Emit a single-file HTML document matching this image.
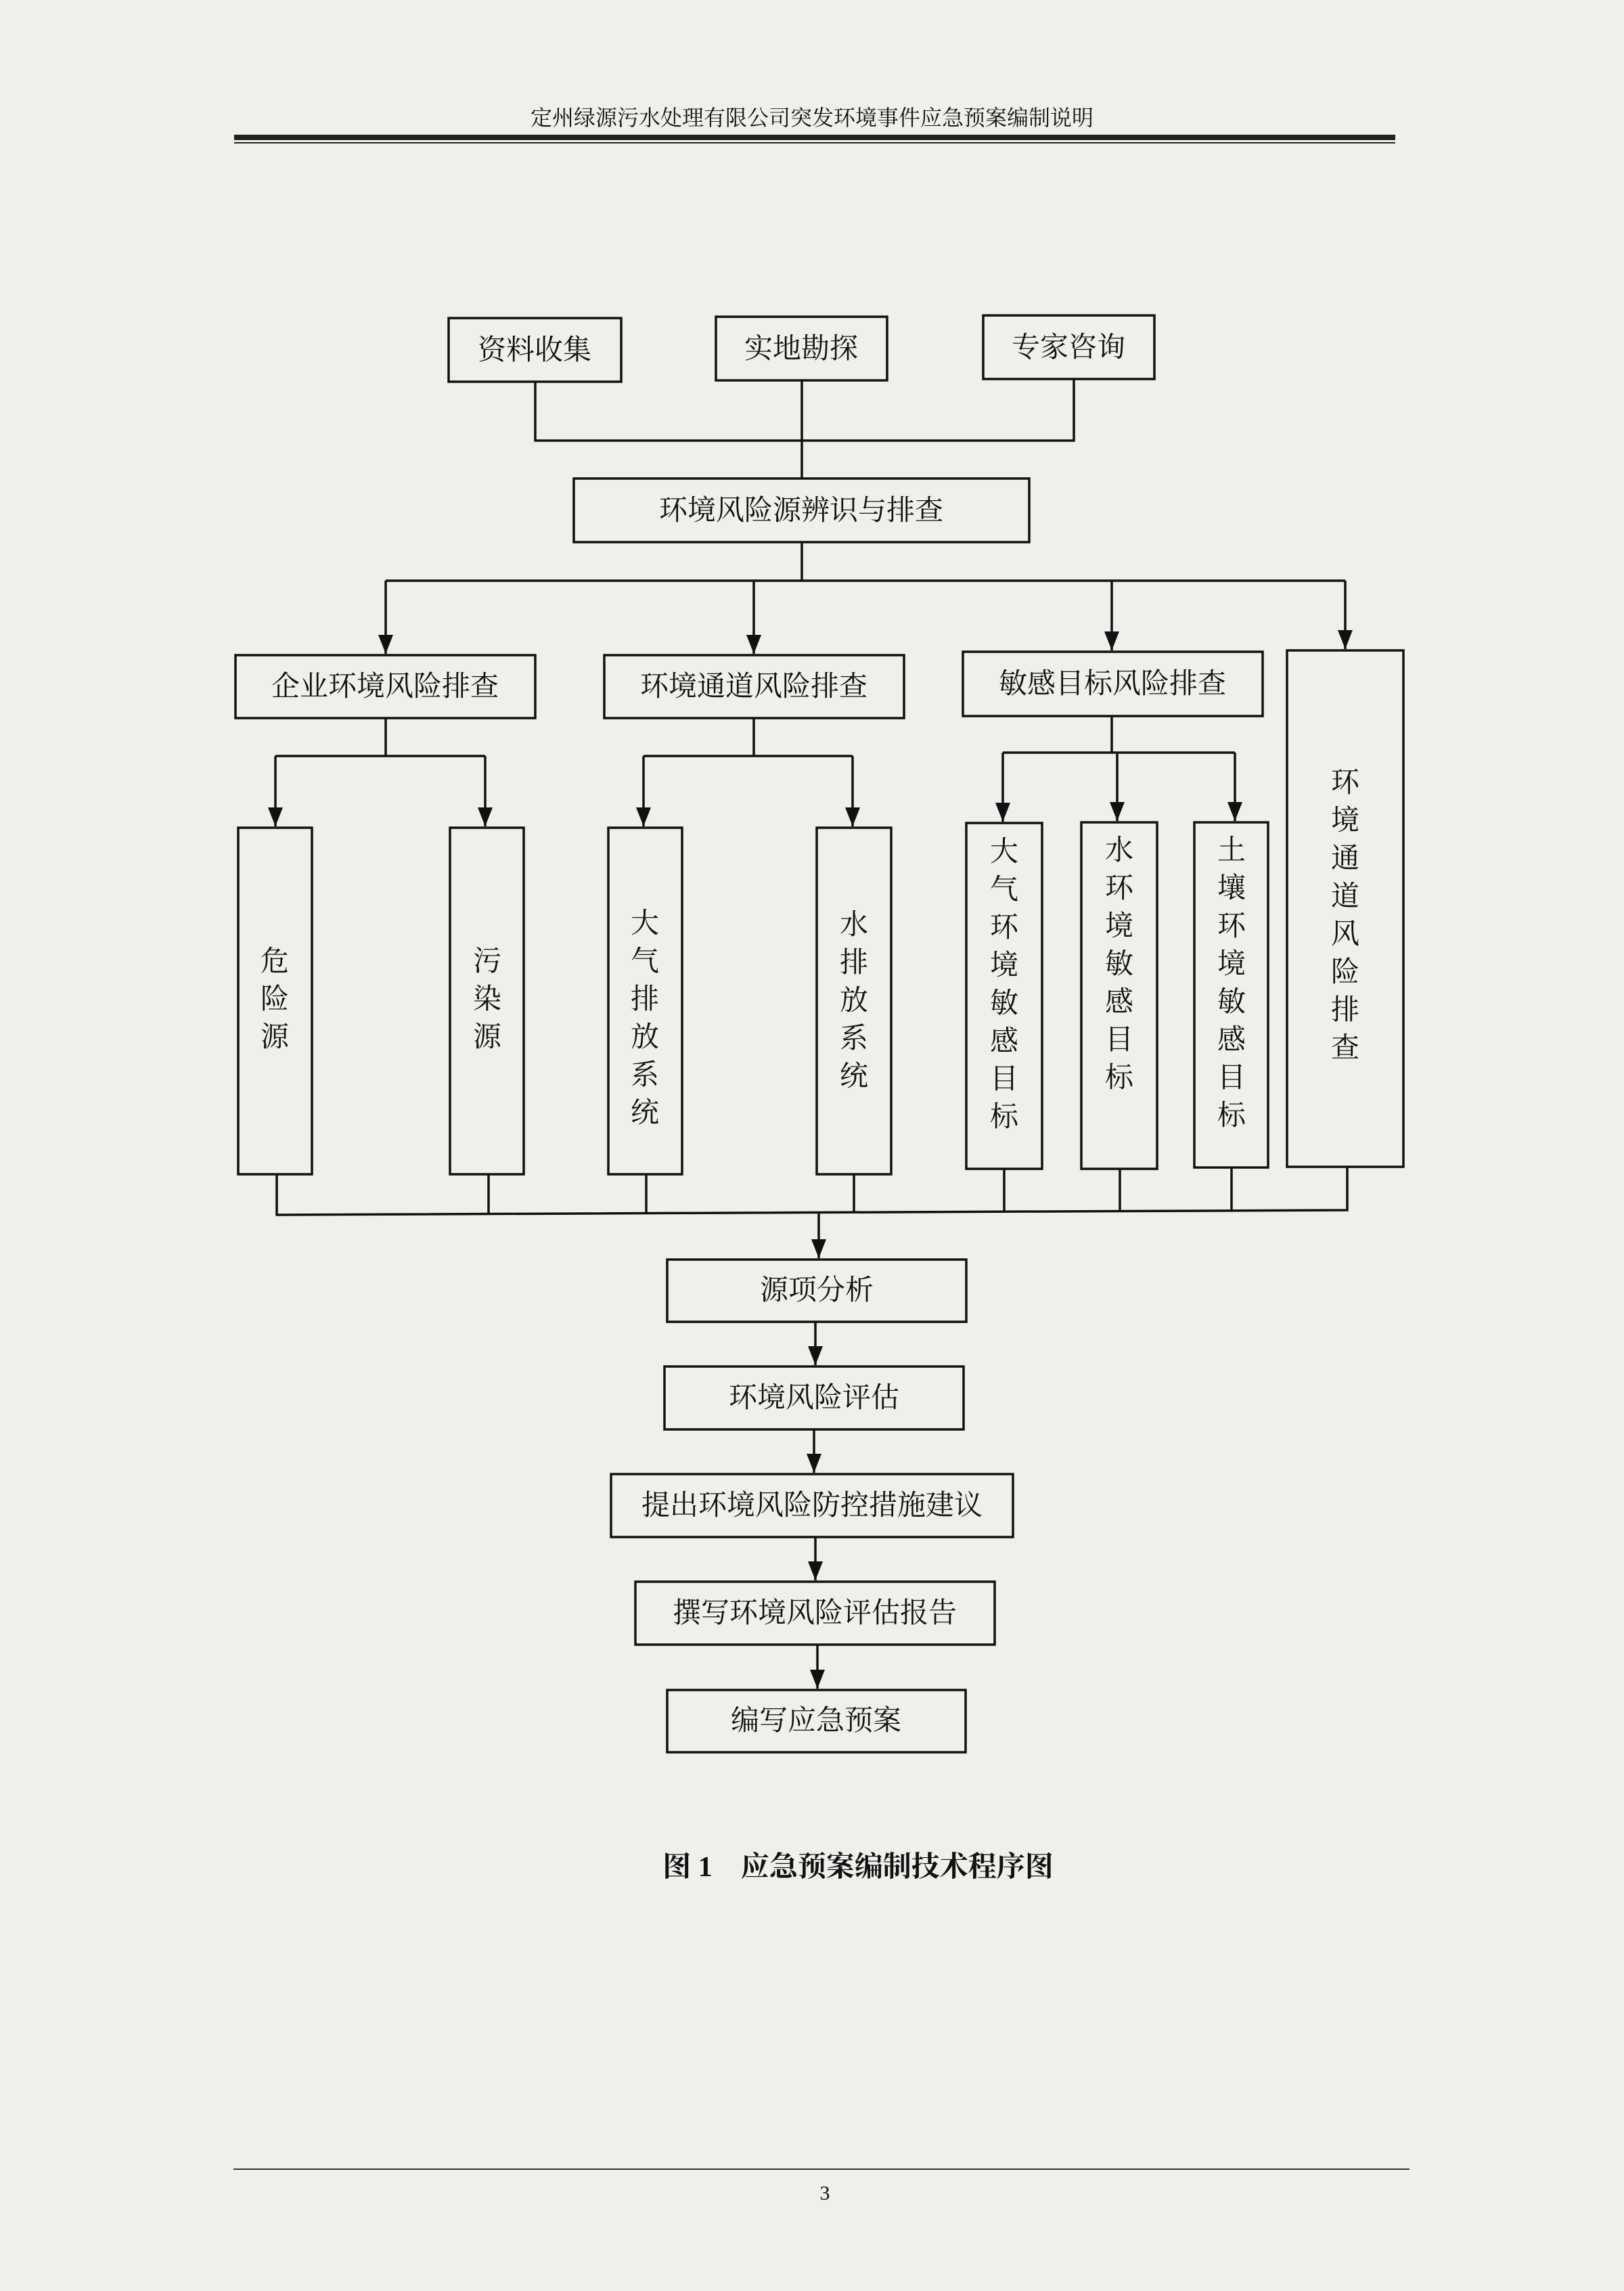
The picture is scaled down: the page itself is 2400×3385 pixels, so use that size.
<!DOCTYPE html>
<html><head><meta charset="utf-8"><style>
html,body{margin:0;padding:0;background:#efefec;}
svg{display:block}
text{font-family:"Liberation Serif","Noto Serif CJK SC","Noto Sans CJK SC",serif;fill:#111;}
</style></head><body>
<svg width="2400" height="3385" viewBox="0 0 2400 3385" xmlns="http://www.w3.org/2000/svg">
<rect width="2400" height="3385" fill="#efefec"/>
<defs>
<marker id="b" viewBox="0 0 10 10" markerWidth="22" markerHeight="28" refX="5" refY="10" orient="0" markerUnits="userSpaceOnUse" preserveAspectRatio="none"><path d="M0,0 L10,0 L5,10 Z" fill="#111"/></marker></defs>
<text x="1200" y="185" font-size="32" text-anchor="middle">定州绿源污水处理有限公司突发环境事件应急预案编制说明</text>
<rect x="346" y="199" width="1716" height="8" fill="#222"/>
<rect x="346" y="210" width="1716" height="2" fill="#222"/>
<g fill="none" stroke="#111" stroke-width="3.5">
<rect x="663" y="470" width="255" height="94"/>
<rect x="1058" y="468" width="253" height="94"/>
<rect x="1453" y="466" width="253" height="94"/>
<polyline points="791,564 791,651 1587,651 1587,560"/>
<line x1="1185" y1="562" x2="1185" y2="707"/>
<rect x="848" y="707" width="673" height="94"/>
<line x1="1185" y1="801" x2="1185" y2="858"/>
<line x1="570" y1="858" x2="1988" y2="858"/>
<line x1="570" y1="858" x2="570" y2="966" marker-end="url(#b)"/>
<line x1="1114" y1="858" x2="1114" y2="966" marker-end="url(#b)"/>
<line x1="1643" y1="858" x2="1643" y2="961" marker-end="url(#b)"/>
<line x1="1988" y1="858" x2="1988" y2="959" marker-end="url(#b)"/>
<rect x="348" y="968" width="443" height="93"/>
<rect x="893" y="968" width="443" height="93"/>
<rect x="1423" y="963" width="443" height="95"/>
<rect x="1902" y="961" width="172" height="763"/>
<line x1="570" y1="1061" x2="570" y2="1117"/>
<line x1="407" y1="1117" x2="717" y2="1117"/>
<line x1="407" y1="1117" x2="407" y2="1221" marker-end="url(#b)"/>
<line x1="717" y1="1117" x2="717" y2="1221" marker-end="url(#b)"/>
<line x1="1114" y1="1061" x2="1114" y2="1117"/>
<line x1="951" y1="1117" x2="1260" y2="1117"/>
<line x1="951" y1="1117" x2="951" y2="1221" marker-end="url(#b)"/>
<line x1="1260" y1="1117" x2="1260" y2="1221" marker-end="url(#b)"/>
<line x1="1643" y1="1058" x2="1643" y2="1112"/>
<line x1="1482" y1="1112" x2="1825" y2="1112"/>
<line x1="1482" y1="1112" x2="1482" y2="1214" marker-end="url(#b)"/>
<line x1="1651" y1="1112" x2="1651" y2="1213" marker-end="url(#b)"/>
<line x1="1825" y1="1112" x2="1825" y2="1213" marker-end="url(#b)"/>
<rect x="352" y="1223" width="109" height="512"/>
<rect x="665" y="1223" width="109" height="512"/>
<rect x="899" y="1223" width="109" height="512"/>
<rect x="1207" y="1223" width="110" height="512"/>
<rect x="1428" y="1216" width="112" height="511"/>
<rect x="1598" y="1215" width="112" height="512"/>
<rect x="1765" y="1215" width="109" height="510"/>
<polyline points="409,1735 409,1795 1991,1788 1991,1724"/>
<line x1="722" y1="1735" x2="722" y2="1794"/>
<line x1="955" y1="1735" x2="955" y2="1793"/>
<line x1="1262" y1="1735" x2="1262" y2="1792"/>
<line x1="1484" y1="1727" x2="1484" y2="1791"/>
<line x1="1655" y1="1727" x2="1655" y2="1790"/>
<line x1="1820" y1="1725" x2="1820" y2="1789"/>
<line x1="1210" y1="1793" x2="1210" y2="1859" marker-end="url(#b)"/>
<rect x="986" y="1861" width="442" height="92"/>
<line x1="1205" y1="1953" x2="1205" y2="2017" marker-end="url(#b)"/>
<rect x="982" y="2019" width="442" height="93"/>
<line x1="1203" y1="2112" x2="1203" y2="2176" marker-end="url(#b)"/>
<rect x="903" y="2178" width="594" height="93"/>
<line x1="1205" y1="2271" x2="1205" y2="2335" marker-end="url(#b)"/>
<rect x="939" y="2337" width="531" height="93"/>
<line x1="1208" y1="2430" x2="1208" y2="2495" marker-end="url(#b)"/>
<rect x="986" y="2497" width="441" height="92"/>
</g>
<g font-size="42" text-anchor="middle">
<text x="790" y="531">资料收集</text>
<text x="1184" y="529">实地勘探</text>
<text x="1579" y="527">专家咨询</text>
<text x="1184" y="768">环境风险源辨识与排查</text>
<text x="569" y="1028">企业环境风险排查</text>
<text x="1114" y="1028">环境通道风险排查</text>
<text x="1644" y="1024">敏感目标风险排查</text>
<text x="1207" y="1920">源项分析</text>
<text x="1203" y="2079">环境风险评估</text>
<text x="1200" y="2238">提出环境风险防控措施建议</text>
<text x="1204" y="2397">撰写环境风险评估报告</text>
<text x="1206" y="2556">编写应急预案</text>
</g>
<g font-size="42" text-anchor="middle">
<text x="406" y="1434">危</text><text x="406" y="1490">险</text><text x="406" y="1546">源</text>
<text x="720" y="1434">污</text><text x="720" y="1490">染</text><text x="720" y="1546">源</text>
<text x="953" y="1378">大</text><text x="953" y="1434">气</text><text x="953" y="1490">排</text><text x="953" y="1546">放</text><text x="953" y="1602">系</text><text x="953" y="1658">统</text>
<text x="1262" y="1380">水</text><text x="1262" y="1436">排</text><text x="1262" y="1492">放</text><text x="1262" y="1548">系</text><text x="1262" y="1604">统</text>
<text x="1484" y="1272">大</text><text x="1484" y="1328">气</text><text x="1484" y="1384">环</text><text x="1484" y="1440">境</text><text x="1484" y="1496">敏</text><text x="1484" y="1552">感</text><text x="1484" y="1608">目</text><text x="1484" y="1664">标</text>
<text x="1654" y="1270">水</text><text x="1654" y="1326">环</text><text x="1654" y="1382">境</text><text x="1654" y="1438">敏</text><text x="1654" y="1494">感</text><text x="1654" y="1550">目</text><text x="1654" y="1606">标</text>
<text x="1820" y="1270">土</text><text x="1820" y="1326">壤</text><text x="1820" y="1382">环</text><text x="1820" y="1438">境</text><text x="1820" y="1494">敏</text><text x="1820" y="1550">感</text><text x="1820" y="1606">目</text><text x="1820" y="1662">标</text>
<text x="1988" y="1170">环</text><text x="1988" y="1226">境</text><text x="1988" y="1282">通</text><text x="1988" y="1338">道</text><text x="1988" y="1394">风</text><text x="1988" y="1450">险</text><text x="1988" y="1506">排</text><text x="1988" y="1562">查</text>
</g>
<text x="1268" y="2772" font-size="42" font-weight="bold" text-anchor="middle" font-family="Liberation Sans,Noto Sans CJK SC,sans-serif">图 1　应急预案编制技术程序图</text>
<rect x="345" y="3204" width="1738" height="2" fill="#333"/>
<text x="1219" y="3250" font-size="30" text-anchor="middle">3</text>
</svg>
</body></html>
